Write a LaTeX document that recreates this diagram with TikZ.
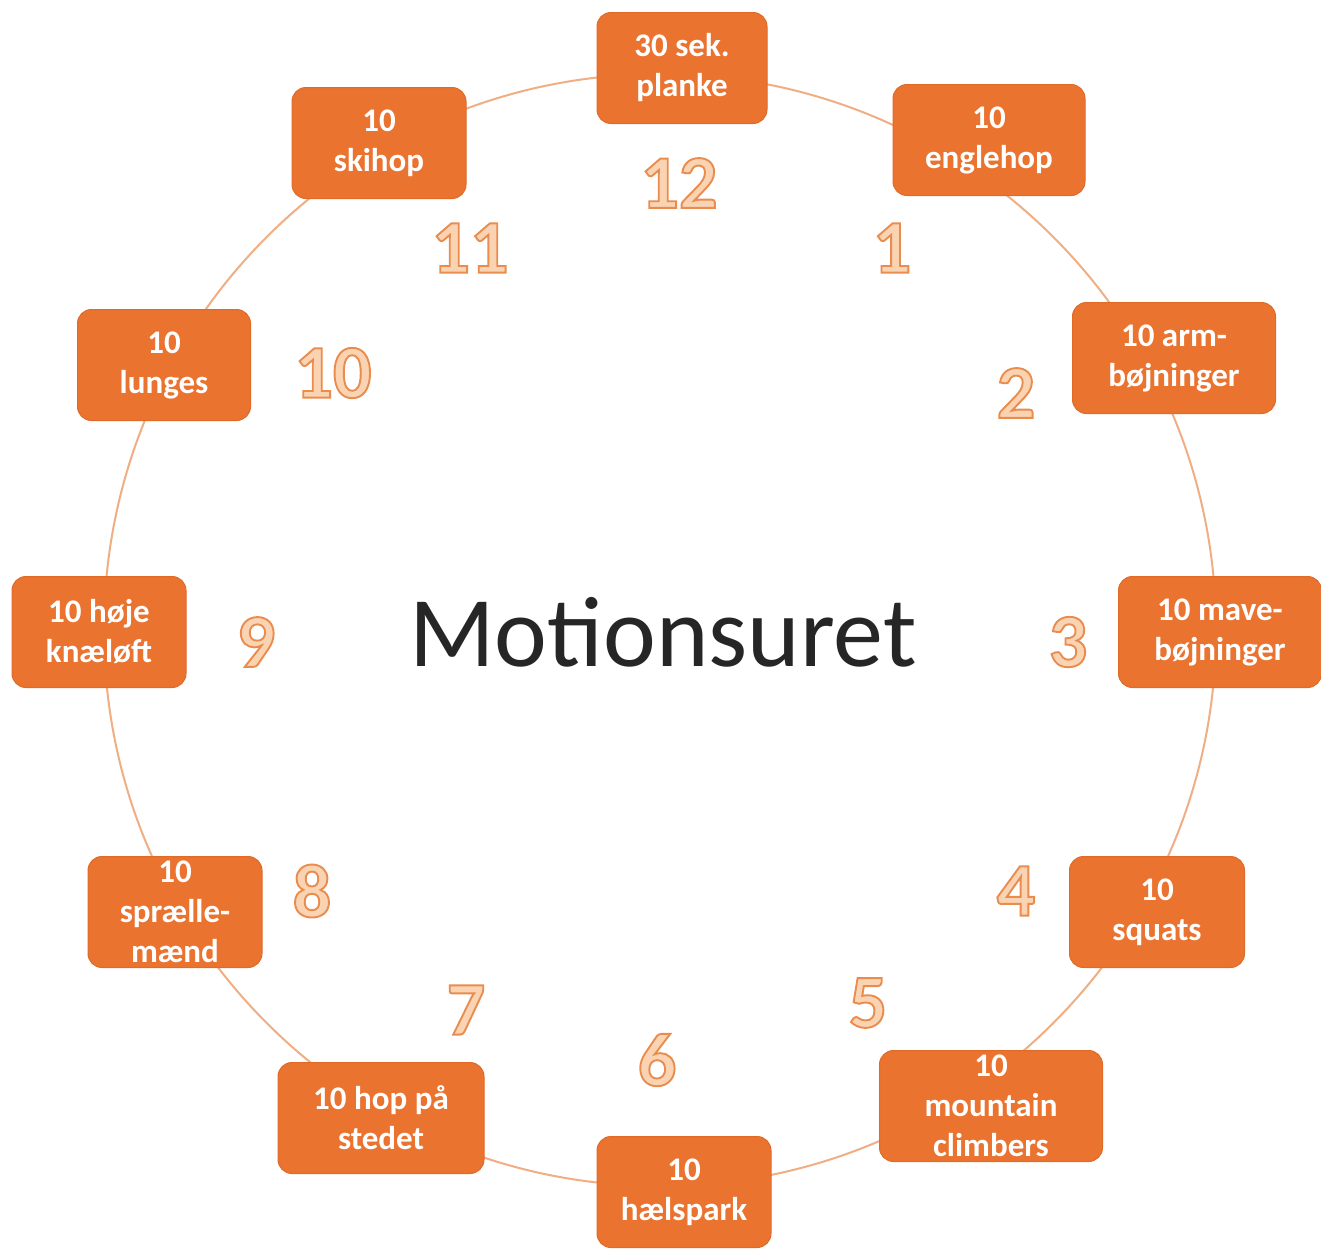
\documentclass[tikz,border=0pt]{standalone}
\usepackage{fontspec}
\setmainfont{Carlito}
\newfontface\numface{Carlito Bold}[FakeBold=2.5]
\definecolor{boxor}{HTML}{EA7330}
\definecolor{boxedge}{HTML}{E06A28}
\definecolor{ringc}{HTML}{F0AE84}
\definecolor{numfill}{HTML}{FAD3B2}
\definecolor{numline}{HTML}{EA8C4E}
\definecolor{titlec}{HTML}{262626}
\newcommand{\clocknum}[1]{{\color{numfill}\special{pdf:code 0.918 0.549 0.306 RG}#1}}
\begin{document}
\begin{tikzpicture}[x=1pt,y=-1pt,
  box/.style={fill=boxor, draw=boxedge, line width=1pt, rounded corners=14pt, text=white,
    font=\fontsize{33}{40}\selectfont\bfseries, align=center, inner sep=0pt,
    minimum height=111pt},
  num/.style={font=\fontsize{76}{76}\selectfont\numface, inner sep=0pt},
  ring/.style={draw=ringc, line width=2pt}]
\useasboundingbox (0,0) rectangle (1321,1251);
\fill[white] (0,0) rectangle (1321,1251);
\coordinate (c) at (660,630);
\draw[ring] (c) circle (556);

\node[box, minimum width=170pt] (b12) at (682,68) {30 sek.\\planke};
\node[box, minimum width=192pt] (b1) at (989,140) {10\\englehop};
\node[box, minimum width=203pt] (b2) at (1174,358) {10 arm-\\bøjninger};
\node[box, minimum width=203pt] (b3) at (1220,632) {10 mave-\\bøjninger};
\node[box, minimum width=175pt] (b4) at (1157,912) {10\\squats};
\node[box, minimum width=223pt] (b5) at (991,1106) {10\\mountain\\climbers};
\node[box, minimum width=174pt] (b6) at (684,1192) {10\\hælspark};
\node[box, minimum width=206pt] (b7) at (381,1118) {10 hop på\\stedet};
\node[box, minimum width=174pt] (b8) at (175,912) {10\\sprælle-\\mænd};
\node[box, minimum width=174pt] (b9) at (99,632) {10 høje\\knæløft};
\node[box, minimum width=173pt] (b10) at (164,365) {10\\lunges};
\node[box, minimum width=174pt] (b11) at (379,143) {10\\skihop};

\node[num] (n12) at (679,183) {\clocknum{12}};
\node[num] (n1) at (892,248) {\clocknum{1}};
\node[num] (n2) at (1016,393) {\clocknum{2}};
\node[num] (n3) at (1068,642) {\clocknum{3}};
\node[num] (n4) at (1016,891) {\clocknum{4}};
\node[num] (n5) at (868,1003) {\clocknum{5}};
\node[num] (n6) at (657,1060) {\clocknum{6}};
\node[num] (n7) at (466,1010) {\clocknum{7}};
\node[num] (n8) at (312,891) {\clocknum{8}};
\node[num] (n9) at (256,642) {\clocknum{9}};
\node[num] (n10) at (333,373) {\clocknum{10}};
\node[num] (n11) at (470,248) {\clocknum{11}};

\node[font=\fontsize{100}{100}\selectfont, text=titlec, inner sep=0pt] (title) at (663,632) {Motionsuret};
\end{tikzpicture}
\end{document}
